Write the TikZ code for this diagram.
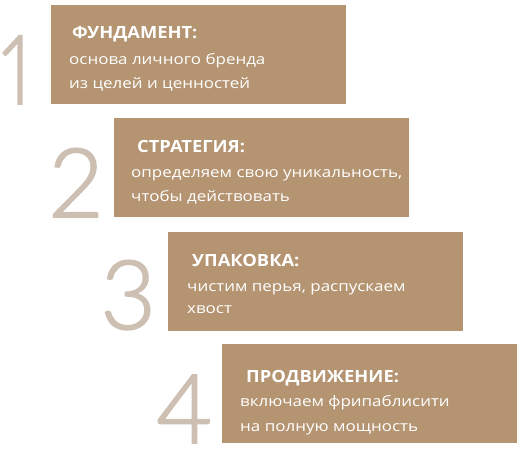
\documentclass[tikz,border=0pt]{standalone}
\usepackage{fontspec}
\usepackage{graphicx}
\setmainfont{Open Sans}
\newfontfamily\bodyfont{Open Sans}[FakeStretch=1.17]
\newfontfamily\titlefont{Open Sans}[FakeStretch=1.09]
\newfontfamily\digitfont{Lato Light}[FakeBold=1.8, Numbers=Proportional]
\definecolor{boxbrown}{HTML}{B59472}
\definecolor{digitgrey}{HTML}{CDC0B3}
\tikzset{
  stepbox/.style={fill=boxbrown, draw=none, minimum width=295pt, minimum height=99pt, anchor=north west, inner sep=0pt},
  steptitle/.style={anchor=base west, inner sep=0pt, text=white, font=\titlefont\fontsize{16.8}{20}\selectfont\bfseries},
  stepbody/.style={anchor=base west, inner sep=0pt, text=white, font=\bodyfont\fontsize{14.5}{18}\selectfont},
  stepdigit/.style={anchor=base east, inner sep=0pt, text=digitgrey, font=\digitfont\fontsize{96}{100}\selectfont}
}
\begin{document}
\begin{tikzpicture}[x=1pt,y=-1pt]
\useasboundingbox (0,0) rectangle (523,449);
% digits
\node[stepdigit] (d1) at (31,104) {\scalebox{0.82}[1]{1}};
\node[stepdigit] (d2) at (103,217) {2};
\node[stepdigit] (d3) at (156,329) {3};
\node[stepdigit] (d4) at (213,443) {4};
% boxes
\node[stepbox] (b1) at (51,5) {};
\node[stepbox] (b2) at (114,118) {};
\node[stepbox] (b3) at (168,232) {};
\node[stepbox] (b4) at (222,344) {};
% texts
\node[steptitle] (t1) at (72,39) {ФУНДАМЕНТ:};
\node[stepbody] (l1a) at (69,65) {основа личного бренда};
\node[stepbody] (l1b) at (69,89) {из целей и ценностей};
\node[steptitle] (t2) at (137,153) {СТРАТЕГИЯ:};
\node[stepbody] (l2a) at (131,178) {определяем свою уникальность,};
\node[stepbody] (l2b) at (131,202) {чтобы действовать};
\node[steptitle] (t3) at (192,267) {УПАКОВКА:};
\node[stepbody] (l3a) at (187,292) {чистим перья, распускаем};
\node[stepbody] (l3b) at (187,314) {хвост};
\node[steptitle] (t4) at (246,383) {ПРОДВИЖЕНИЕ:};
\node[stepbody] (l4a) at (240,407) {включаем фрипаблисити};
\node[stepbody] (l4b) at (240,432) {на полную мощность};
\end{tikzpicture}
\end{document}
